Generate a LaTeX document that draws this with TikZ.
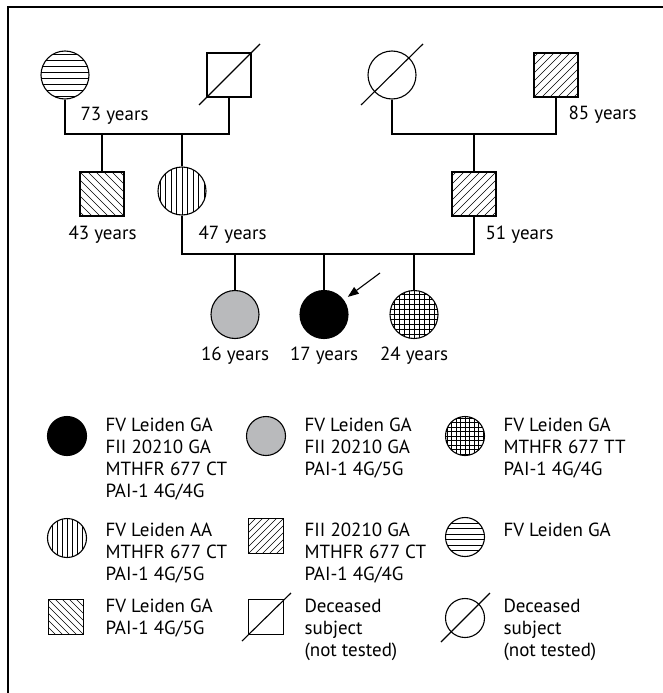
\documentclass[tikz,border=0pt]{standalone}
\usepackage{fontspec}
\setmainfont{PT Sans}
\usetikzlibrary{positioning,arrows.meta}
\definecolor{carriergray}{RGB}{185,186,188}
\newcommand{\keylines}[1]{\begin{tabular}[t]{@{}l@{}}#1\end{tabular}}

\begin{document}
\begin{tikzpicture}[x=1pt, y=-1pt, line width=1.1pt,
    hatch/.style={line width=0.6pt},
    fem/.style={circle, draw=black, inner sep=0pt, minimum size=48pt},
    mal/.style={rectangle, draw=black, inner sep=0pt, minimum size=44pt},
    femkey/.style={circle, draw=black, inner sep=0pt, minimum size=39pt},
    malkey/.style={rectangle, draw=black, inner sep=0pt, minimum size=35pt},
    hstripes/.style={path picture={\foreach \n in {-7,...,7}
        \draw[hatch] ([yshift={(\n+0.5)*#1}]path picture bounding box.center) ++(-40pt,0pt) -- ++(80pt,0pt);}},
    hstripes/.default=6,
    vstripes/.style={path picture={\foreach \n in {-7,...,7}
        \draw[hatch] ([xshift={\n*#1}]path picture bounding box.center) ++(0pt,-40pt) -- ++(0pt,80pt);}},
    vstripes/.default=5.5,
    fhatch/.style={path picture={\foreach \n in {-10,...,10}
        \draw[hatch] ([xshift={\n*#1}]path picture bounding box.center) ++(-40pt,-40pt) -- ++(80pt,80pt);}},
    fhatch/.default=8,
    bhatch/.style={path picture={\foreach \n in {-10,...,10}
        \draw[hatch] ([xshift={\n*#1}]path picture bounding box.center) ++(-40pt,40pt) -- ++(80pt,-80pt);}},
    bhatch/.default=8,
    grid/.style={path picture={\foreach \n in {-8,...,8}
        {\draw[hatch] ([yshift={\n*#1}]path picture bounding box.center) ++(-40pt,0pt) -- ++(80pt,0pt);
         \draw[hatch] ([xshift={\n*#1}]path picture bounding box.center) ++(0pt,-40pt) -- ++(0pt,80pt);}}},
    grid/.default=5,
    age/.style={font=\fontsize{19}{22}\selectfont, inner sep=0pt},
    key/.style={font=\fontsize{19}{22}\selectfont, inner sep=0pt}]
\useasboundingbox (0,0) rectangle (663,693);

% frame
\draw[line width=1.2pt] (8,693) -- (8,7) -- (663,7);

% grandparents, mother's side
\node[fem, hstripes] (gmM) at (65,75) {};
\node[mal] (gfM) at (229,75) {};
\draw ([shift={(-30,30)}]gfM.center) -- ([shift={(31,-31)}]gfM.center);
\node[age, anchor=base west] (agegmM) at (80,120) {73 years};

% grandparents, father's side
\node[fem] (gmF) at (392,75) {};
\draw ([shift={(-31,30)}]gmF.center) -- ([shift={(31,-31)}]gmF.center);
\node[mal, fhatch] (gfF) at (556,75) {};
\node[age, anchor=base west] (agegfF) at (568,119) {85 years};

% parents' generation
\node[mal, bhatch] (uncle) at (102,194) {};
\node[fem, vstripes] (mom) at (182,191) {};
\node[mal, fhatch] (dad) at (474,194) {};
\node[age, anchor=base west] (ageuncle) at (68,239) {43 years};
\node[age, anchor=base west] (agemom) at (198,239) {47 years};
\node[age, anchor=base west] (agedad) at (485,239) {51 years};

\coordinate (mateM) at (147,134);
\coordinate (mateF) at (474,134);
\draw (gmM.south) |- (mateM) -| (gfM.south);
\draw (uncle.north) -- (uncle.north |- mateM);
\draw (mom.north) -- (mom.north |- mateM);
\draw (gmF.south) |- (mateF) -| (gfF.south);
\draw (dad.north) -- (mateF);

% children
\node[fem, fill=carriergray] (sis1) at (235,314.5) {};
\node[fem, fill=black] (proband) at (324,314.5) {};
\node[fem, grid] (sis2) at (414,314.5) {};
\node[age, anchor=base] (agesis1) at (235,360) {16 years};
\node[age, anchor=base] (ageproband) at (324,360) {17 years};
\node[age, anchor=base] (agesis2) at (414,360) {24 years};

\coordinate (sibs) at (324,254);
\draw (mom.south) |- (sibs) -| (dad.south);
\draw (sis1.north) -- (sis1.north |- sibs);
\draw (proband.north) -- (sibs);
\draw (sis2.north) -- (sis2.north |- sibs);
\coordinate (pointer) at (380,273);
\draw[-{Triangle[length=11pt,width=8pt]}, shorten >=5pt] (pointer) -- (proband);

% key
\node[femkey, fill=black] (kblack) at (67,436) {};
\node[key, anchor=base west] (tblack) at (105,431) {\keylines{FV Leiden GA\\FII 20210 GA\\MTHFR 677 CT\\PAI-1 4G/4G}};
\node[femkey, fill=carriergray] (kgray) at (266,436) {};
\node[key, anchor=base west] (tgray) at (304,431) {\keylines{FV Leiden GA\\FII 20210 GA\\PAI-1 4G/5G}};
\node[femkey, grid=4.5] (kgrid) at (465,436) {};
\node[key, anchor=base west] (tgrid) at (503,431) {\keylines{FV Leiden GA\\MTHFR 677 TT\\PAI-1 4G/4G}};

\node[femkey, vstripes=5] (kvert) at (67,538) {};
\node[key, anchor=base west] (tvert) at (105,536) {\keylines{FV Leiden AA\\MTHFR 677 CT\\PAI-1 4G/5G}};
\node[malkey, fhatch=7] (kfwd) at (266,536) {};
\node[key, anchor=base west] (tfwd) at (304,536) {\keylines{FII 20210 GA\\MTHFR 677 CT\\PAI-1 4G/4G}};
\node[femkey, hstripes=5.5] (khor) at (465,537) {};
\node[key, anchor=base west] (thor) at (503,536) {FV Leiden GA};

\node[malkey, bhatch=7] (kback) at (66,617) {};
\node[key, anchor=base west] (tback) at (105,612) {\keylines{FV Leiden GA\\PAI-1 4G/5G}};
\node[malkey] (kdeadm) at (266,617) {};
\draw ([shift={(-24,24)}]kdeadm.center) -- ([shift={(25,-24)}]kdeadm.center);
\node[key, anchor=base west] (tdeadm) at (304,612) {\keylines{Deceased\\subject\\(not tested)}};
\node[femkey] (kdeadf) at (465,618) {};
\draw ([shift={(-24,24)}]kdeadf.center) -- ([shift={(25,-25)}]kdeadf.center);
\node[key, anchor=base west] (tdeadf) at (503,612) {\keylines{Deceased\\subject\\(not tested)}};
\end{tikzpicture}
\end{document}
